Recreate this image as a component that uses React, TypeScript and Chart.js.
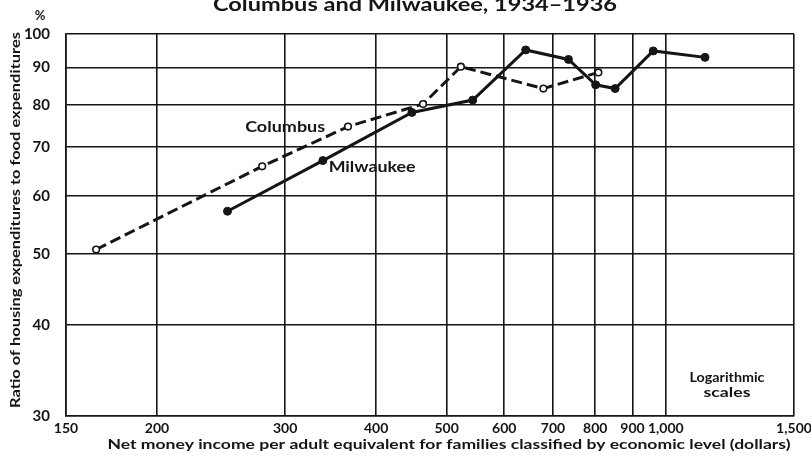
import React, { useEffect, useRef } from "react";
import { Chart, registerables } from "chart.js";

Chart.register(...registerables);

const columbusIncome = [165, 279, 366, 464, 523, 679, 808];
const columbusRatio = [50.7, 65.9, 74.7, 80.2, 90.2, 84.2, 88.6];

const milwaukeeIncome = [250, 338, 448, 543, 642, 735, 801, 852, 961, 1132];
const milwaukeeRatio = [57.2, 67.1, 78.1, 81.2, 95.1, 92.3, 85.2, 84.2, 94.8, 92.9];

const xTickValues = [150, 200, 300, 400, 500, 600, 700, 800, 900, 1000, 1500];
const yTickValues = [30, 40, 50, 60, 70, 80, 90, 100];

const titleText = "Columbus and Milwaukee, 1934\u20131936";
const xTitle =
  "Net money income per adult equivalent for families classified by economic level (dollars)";
const yTitle = "Ratio of housing expenditures to food expenditures";

const INK = "#151515";
const FONT = "Lato, 'DejaVu Sans', sans-serif";

function drawFit(
  ctx: CanvasRenderingContext2D,
  text: string,
  cx: number,
  cy: number,
  width: number,
  font: string,
  rotate = 0
) {
  ctx.save();
  ctx.font = font;
  const m = ctx.measureText(text).width;
  ctx.translate(cx, cy);
  if (rotate) ctx.rotate(rotate);
  ctx.scale(width / m, 1);
  ctx.textAlign = "center";
  ctx.textBaseline = "middle";
  ctx.fillStyle = INK;
  ctx.fillText(text, 0, 0);
  ctx.restore();
}

const textPlugin = {
  id: "textPlugin",
  afterDraw(chart: any) {
    const ctx = chart.ctx as CanvasRenderingContext2D;
    const xs = chart.scales.x;
    const ys = chart.scales.y;
    // title (cut at top in the reference)
    ctx.save();
    ctx.font = `bold 18px ${FONT}`;
    const m = ctx.measureText(titleText).width;
    ctx.translate(415, 11);
    ctx.scale(404 / m, 1);
    ctx.textAlign = "center";
    ctx.textBaseline = "alphabetic";
    ctx.fillStyle = INK;
    ctx.fillText(titleText, 0, 0);
    ctx.restore();

    ctx.save();
    ctx.font = `bold 13px ${FONT}`;
    ctx.fillStyle = INK;
    ctx.textAlign = "center";
    ctx.textBaseline = "middle";
    ctx.fillText("%", 40, 16);
    ctx.restore();

    drawFit(ctx, yTitle, 16, 220, 376, `bold 13px ${FONT}`, -Math.PI / 2);
    drawFit(ctx, xTitle, 449, 445, 683, `bold 13px ${FONT}`);

    drawFit(ctx, "Logarithmic", 727, 378, 75, `bold 13px ${FONT}`);
    drawFit(ctx, "scales", 727, 393, 47, `bold 13px ${FONT}`);

    drawFit(
      ctx,
      "Columbus",
      xs.getPixelForValue(300),
      ys.getPixelForValue(74.6),
      80,
      `bold 15px ${FONT}`
    );
    drawFit(
      ctx,
      "Milwaukee",
      xs.getPixelForValue(395),
      ys.getPixelForValue(65.8),
      87,
      `bold 15px ${FONT}`
    );
  },
};

export default function App() {
  const ref = useRef<HTMLCanvasElement | null>(null);

  useEffect(() => {
    if (!ref.current) return;
    const chart = new Chart(ref.current, {
      type: "line",
      data: {
        datasets: [
          {
            label: "Columbus",
            data: columbusIncome.map((x, i) => ({ x, y: columbusRatio[i] })),
            borderColor: INK,
            borderWidth: 3,
            borderDash: [11, 5],
            pointRadius: 3.3,
            pointBackgroundColor: "#ffffff",
            pointBorderColor: INK,
            pointBorderWidth: 1.6,
            fill: false,
            tension: 0,
          },
          {
            label: "Milwaukee",
            data: milwaukeeIncome.map((x, i) => ({ x, y: milwaukeeRatio[i] })),
            borderColor: INK,
            borderWidth: 3,
            pointRadius: 4,
            pointBackgroundColor: INK,
            pointBorderColor: INK,
            pointBorderWidth: 1,
            fill: false,
            tension: 0,
          },
        ],
      },
      options: {
        animation: false,
        responsive: true,
        maintainAspectRatio: false,
        layout: { padding: { top: 34, right: 17, left: 0, bottom: 0 } },
        plugins: {
          legend: { display: false },
          tooltip: { enabled: false },
          title: { display: false },
        },
        scales: {
          x: {
            type: "logarithmic",
            min: 150,
            max: 1500,
            afterBuildTicks: (s: any) => {
              s.ticks = xTickValues.map((v) => ({ value: v }));
            },
            afterFit: (s: any) => {
              s.height = 41;
              s.paddingLeft = 0;
              s.paddingRight = 0;
            },
            ticks: {
              autoSkip: false,
              maxRotation: 0,
              minRotation: 0,
              padding: 4,
              color: INK,
              font: { family: FONT, size: 14, weight: "bold" },
              callback: (v: any) => Number(v).toLocaleString("en-US"),
            },
            grid: { color: INK, lineWidth: 1.6, drawTicks: false },
            border: { display: true, color: INK, width: 1.6 },
          },
          y: {
            type: "logarithmic",
            min: 30,
            max: 100,
            afterBuildTicks: (s: any) => {
              s.ticks = yTickValues.map((v) => ({ value: v }));
            },
            afterFit: (s: any) => {
              s.width = 66;
              s.paddingTop = 0;
              s.paddingBottom = 0;
            },
            ticks: {
              autoSkip: false,
              padding: 16,
              color: INK,
              font: { family: FONT, size: 15, weight: "bold" },
              callback: (v: any) => String(v),
            },
            grid: { color: INK, lineWidth: 1.6, drawTicks: false },
            border: { display: true, color: INK, width: 1.6 },
          },
        },
      },
      plugins: [textPlugin],
    } as any);
    return () => chart.destroy();
  }, []);

  return (
    <div
      style={{
        position: "fixed",
        left: 0,
        top: 0,
        width: 811,
        height: 457,
        background: "#ffffff",
      }}
    >
      <canvas ref={ref} />
    </div>
  );
}
